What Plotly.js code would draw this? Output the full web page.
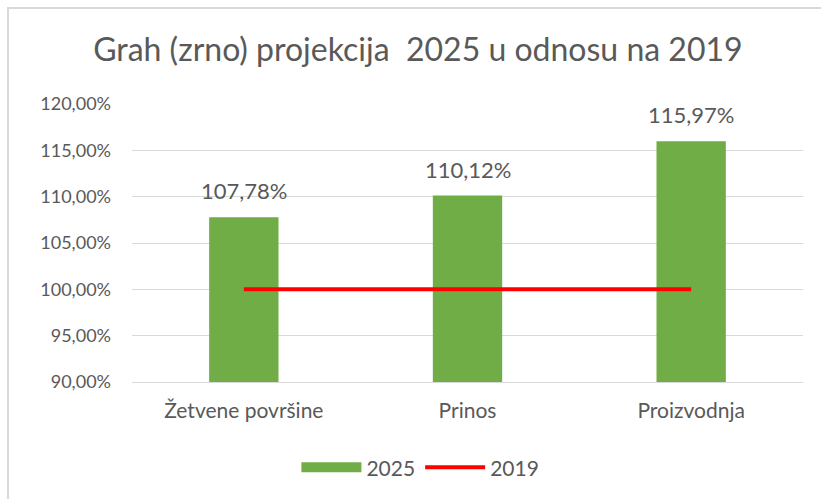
<!DOCTYPE html>
<html>
<head>
<meta charset="utf-8">
<script src="https://cdn.plot.ly/plotly-3.0.1.min.js"></script>
<style>
html,body{margin:0;padding:0;background:#fff;}
#wrap{position:relative;width:821px;height:499px;}
#chart{position:absolute;left:0;top:0;width:821px;height:499px;}
#bl{position:absolute;left:7px;top:8px;width:2px;height:491px;background:#d9d9d9;}
#bt{position:absolute;left:7px;top:7px;width:814px;height:2px;background:#d9d9d9;}
</style>
</head>
<body>
<div id="wrap"><div id="chart"></div><div id="bl"></div><div id="bt"></div></div>
<script>
const categories = ['Žetvene površine', 'Prinos', 'Proizvodnja'];
const values2025 = [107.78, 110.12, 115.97];
const values2019 = [100, 100, 100];
const tickValues = [90, 95, 100, 105, 110, 115, 120];

const fontFam = 'Lato, "Open Sans", sans-serif';
const grey = '#595959';
const green = '#70AD47';
const fmt = v => v.toFixed(2).replace('.', ',') + '%';

const traces = [
  {
    type: 'bar', name: '2025', x: categories, y: values2025,
    marker: {color: green}, hoverinfo: 'skip', showlegend: false, legendgroup: 'a'
  },
  {
    // legend-only proxy so the 2025 key is a wide bar-like swatch
    type: 'scatter', mode: 'lines', name: '2025', x: [null], y: [null],
    line: {color: green, width: 11}, hoverinfo: 'skip', legendgroup: 'a'
  },
  {
    type: 'scatter', mode: 'lines', name: '2019', x: categories, y: values2019,
    line: {color: '#FF0000', width: 4}, hoverinfo: 'skip'
  }
];

const annotations = categories.map((c, i) => ({
  x: c, y: values2025[i], xref: 'x', yref: 'y', text: fmt(values2025[i]),
  showarrow: false, yanchor: 'bottom', yshift: 11,
  font: {family: fontFam, size: 22, color: grey}
}));

const layout = {
  width: 821, height: 499,
  margin: {l: 132, r: 18, t: 104, b: 116},
  paper_bgcolor: '#ffffff', plot_bgcolor: '#ffffff',
  font: {family: fontFam, color: grey, size: 20},
  title: {text: 'Grah (zrno) projekcija  2025 u odnosu na 2019', x: 0.509, xanchor: 'center', y: 0.9, yanchor: 'middle',
          font: {family: fontFam, size: 32, color: grey}},
  bargap: 0.69,
  showlegend: true,
  annotations: annotations,
  legend: {orientation: 'h', x: 0.245, xanchor: 'left', y: -0.23, yanchor: 'top', itemwidth: 60,
           font: {family: fontFam, size: 21, color: grey}, traceorder: 'normal'},
  xaxis: {type: 'category', showgrid: false, showline: true, linecolor: '#d9d9d9', linewidth: 1,
          ticks: '', ticklabelstandoff: 10, tickfont: {family: fontFam, size: 21, color: grey}, zeroline: false},
  yaxis: {range: [90, 120], tickmode: 'array', tickvals: tickValues, ticktext: tickValues.map(fmt),
          showgrid: true, gridcolor: '#d9d9d9', gridwidth: 1, zeroline: false, showline: false,
          ticks: '', ticklabelstandoff: 20, tickfont: {family: fontFam, size: 18, color: grey}}
};

Plotly.newPlot('chart', traces, layout, {displayModeBar: false, staticPlot: true});
</script>
</body>
</html>
